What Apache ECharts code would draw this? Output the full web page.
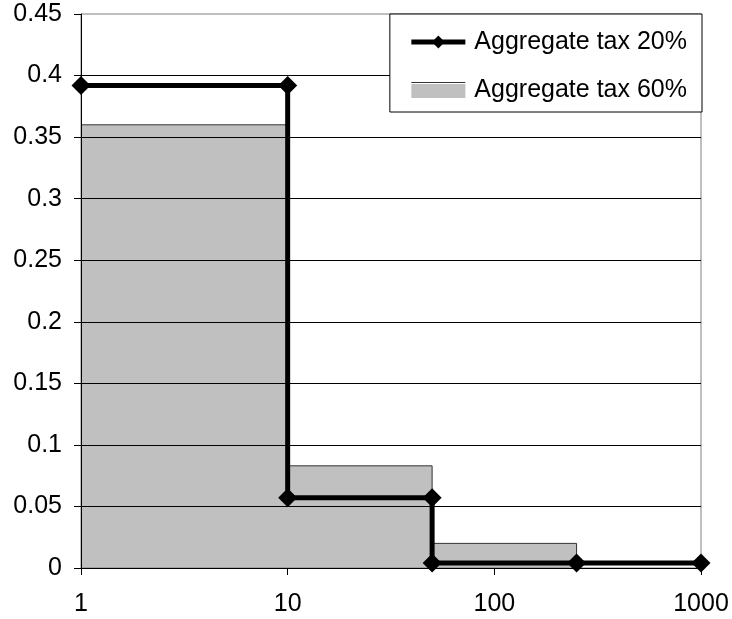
<!DOCTYPE html>
<html>
<head>
<meta charset="utf-8">
<script src="https://cdn.jsdelivr.net/npm/echarts@6/dist/echarts.min.js"></script>
<style>
  html, body { margin: 0; padding: 0; background: #fff; }
  #chart { width: 732px; height: 619px; }
</style>
</head>
<body>
<div id="chart"></div>
<script>
// step corners, x on a log scale
const x20 = [1, 10, 10, 50, 50, 250, 1000];
const y20 = [0.392, 0.392, 0.057, 0.057, 0.004, 0.004, 0.004];
const x60 = [1, 10, 10, 50, 50, 250, 250];
const y60 = [0.36, 0.36, 0.083, 0.083, 0.02, 0.02, 0];
const names = ['Aggregate tax 20%', 'Aggregate tax 60%'];

const font = 'Liberation Sans, Arial, sans-serif';

const myChart = echarts.init(document.getElementById('chart'));
myChart.setOption({
  animation: false,
  grid: {
    left: 81, right: 31, top: 14, bottom: 51,
    outerBoundsMode: 'none',
    containLabel: false,
    show: true, borderColor: '#808080', borderWidth: 1
  },
  legend: {
    orient: 'vertical',
    right: 30,
    top: 14,
    padding: [15, 15, 9, 19],
    itemGap: 22,
    itemWidth: 54,
    itemHeight: 16,
    backgroundColor: '#fff',
    borderColor: '#000',
    borderWidth: 1,
    borderRadius: 0,
    textStyle: { fontFamily: font, fontSize: 25, color: '#000', lineHeight: 26, padding: [0, 0, 0, 4] },
    data: [
      { name: names[0], lineStyle: { width: 5, color: '#000' } },
      {
        name: names[1],
        icon: 'rect',
        itemStyle: {
          color: {
            type: 'linear', x: 0, y: 0, x2: 0, y2: 1,
            colorStops: [
              { offset: 0, color: '#333' },
              { offset: 0.08, color: '#333' },
              { offset: 0.08, color: '#fff' },
              { offset: 0.14, color: '#fff' },
              { offset: 0.14, color: '#c0c0c0' },
              { offset: 1, color: '#c0c0c0' }
            ]
          }
        }
      }
    ]
  },
  xAxis: {
    type: 'log',
    logBase: 10,
    min: 1,
    max: 1000,
    axisLine: { show: true, lineStyle: { color: '#000', width: 1 } },
    axisTick: { show: true, length: 7, lineStyle: { color: '#000' } },
    minorTick: { show: false },
    splitLine: { show: false },
    axisLabel: {
      fontFamily: font, fontSize: 25, color: '#000', margin: 24,
      formatter: (v) => String(Math.round(v))
    }
  },
  yAxis: {
    type: 'value',
    min: 0,
    max: 0.45,
    interval: 0.05,
    axisLine: { show: true, lineStyle: { color: '#000', width: 1 } },
    axisTick: { show: true, length: 7, lineStyle: { color: '#000' } },
    splitLine: { show: true, showMaxLine: false, lineStyle: { color: '#000', width: 1 } },
    axisLabel: { fontFamily: font, fontSize: 25, color: '#000', margin: 19 }
  },
  series: [
    {
      name: names[1],
      type: 'line',
      z: -1,
      symbol: 'none',
      color: '#c0c0c0',
      lineStyle: { color: '#333', width: 1 },
      areaStyle: { color: '#c0c0c0', opacity: 1 },
      data: x60.map((x, i) => [x, y60[i]])
    },
    {
      name: names[0],
      type: 'line',
      z: 3,
      color: '#000',
      symbol: 'diamond',
      symbolSize: 19,
      lineStyle: { color: '#000', width: 5 },
      itemStyle: { color: '#000' },
      data: x20.map((x, i) => [x, y20[i]])
    }
  ]
});
window.addEventListener('resize', () => {
  myChart.resize();
});
</script>
</body>
</html>
